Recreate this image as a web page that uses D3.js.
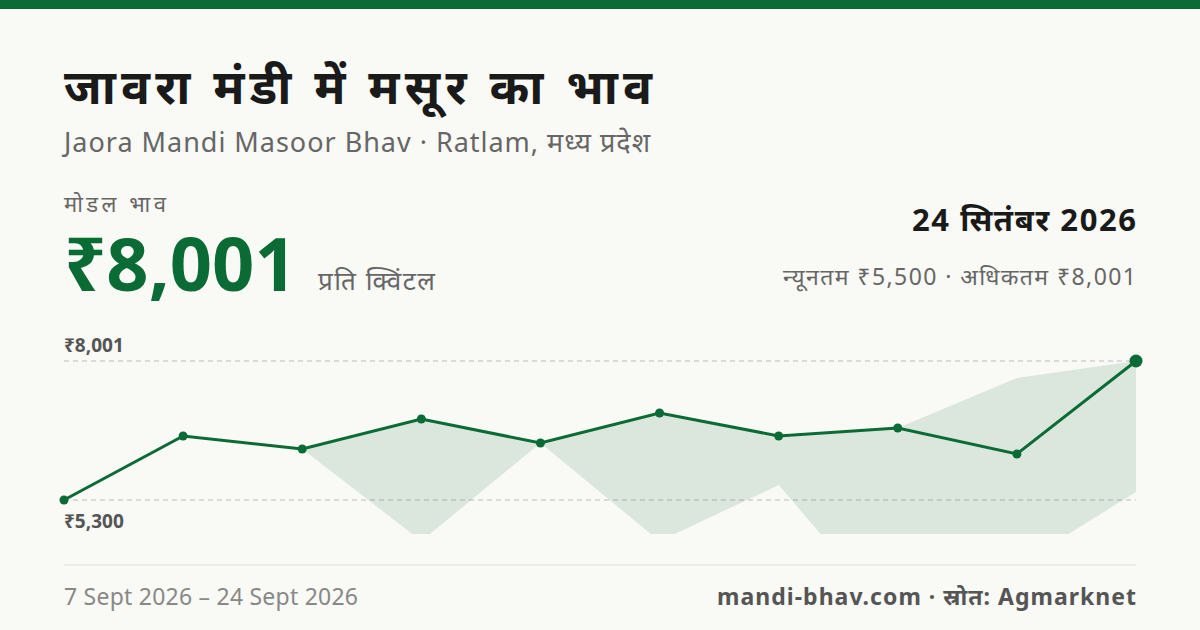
<!DOCTYPE html>
<html><head><meta charset="utf-8">
<script src="https://cdn.jsdelivr.net/npm/d3@7"></script>
<style>body{margin:0;background:#f9f9f5}svg{display:block;font-family:"Noto Sans",sans-serif}</style>
</head><body><svg id="c" width="1200" height="630"></svg>
<script>
const dates=["7 Sept","9 Sept","11 Sept","13 Sept","15 Sept","17 Sept","19 Sept","21 Sept","23 Sept","24 Sept"];
const modal=[5300,6544,6291,6874,6408,6991,6544,6699,6194,8001];
const minP=[null,null,6291,4503,6408,4500,5591,2890,4017,5455];
const maxP=[null,null,6291,6874,6408,6991,6544,6699,7671,8001];
const yTicks=[8001,5300];
const svg=d3.select("#c");
const G="#0b6b35";
svg.append("rect").attr("width",1200).attr("height",630).attr("fill","#f9f9f5");
svg.append("rect").attr("width",1200).attr("height",9).attr("fill","#0b6b35");
const t=(x,y,s,o)=>{const e=svg.append("text").attr("x",x).attr("y",y).text(s).attr("font-size",o.fs).attr("font-weight",o.fw||400).attr("fill",o.c||"#222").attr("text-anchor",o.a||"start");
 if(o.L)e.attr("textLength",o.L).attr("lengthAdjust","spacing");return e;};
t(64,104,"जावरा मंडी में मसूर का भाव",{fs:48,fw:700,c:"#1a1a1a",L:588});
t(64,152,"Jaora Mandi Masoor Bhav · Ratlam, मध्य प्रदेश",{fs:27,c:"#666",L:586});
t(64,212,"मोडल भाव",{fs:22,c:"#666",L:102});
t(64,291,"₹8,001",{fs:74,fw:700,c:G});
t(318,290,"प्रति क्विंटल",{fs:26,c:"#666",L:117});
t(1136,231,"24 सितंबर 2026",{fs:31,fw:700,c:"#1a1a1a",a:"end",L:224});
t(1136,285,"न्यूनतम ₹5,500 · अधिकतम ₹8,001",{fs:23,c:"#666",a:"end",L:353});
t(64,605,"7 Sept 2026 – 24 Sept 2026",{fs:23,c:"#888",L:294});
t(1136,605,"mandi-bhav.com · स्रोत: Agmarknet",{fs:23,fw:700,c:"#555",a:"end",L:419});
const x=d3.scalePoint().domain(dates).range([64,1136]);
const y=d3.scaleLinear().domain([5300,8001]).range([500,361]);
svg.append("defs").append("clipPath").attr("id","cp").append("rect").attr("x",0).attr("y",330).attr("width",1200).attr("height",204);
yTicks.forEach(v=>{
  svg.append("line").attr("x1",64).attr("x2",1136).attr("y1",y(v)).attr("y2",y(v)).attr("stroke","#bbb").attr("stroke-dasharray","5,4");
});
t(64,352,"₹8,001",{fs:19,fw:700,c:"#555"});
t(64,528,"₹5,300",{fs:19,fw:700,c:"#555"});
svg.append("line").attr("x1",64).attr("x2",1136).attr("y1",565).attr("y2",565).attr("stroke","#ddd");
const area=d3.area().defined((d,i)=>minP[i]!=null).x((d,i)=>x(dates[i])).y0((d,i)=>y(minP[i])).y1((d,i)=>y(maxP[i]));
svg.append("path").datum(modal).attr("d",area).attr("fill",G).attr("opacity",0.12).attr("clip-path","url(#cp)");
svg.append("path").datum(modal).attr("d",d3.line().x((d,i)=>x(dates[i])).y(d=>y(d))).attr("fill","none").attr("stroke",G).attr("stroke-width",3);
svg.selectAll("circle").data(modal).join("circle").attr("cx",(d,i)=>x(dates[i])).attr("cy",d=>y(d)).attr("r",(d,i)=>i==modal.length-1?6.5:4.5).attr("fill",G);
</script></body></html>
